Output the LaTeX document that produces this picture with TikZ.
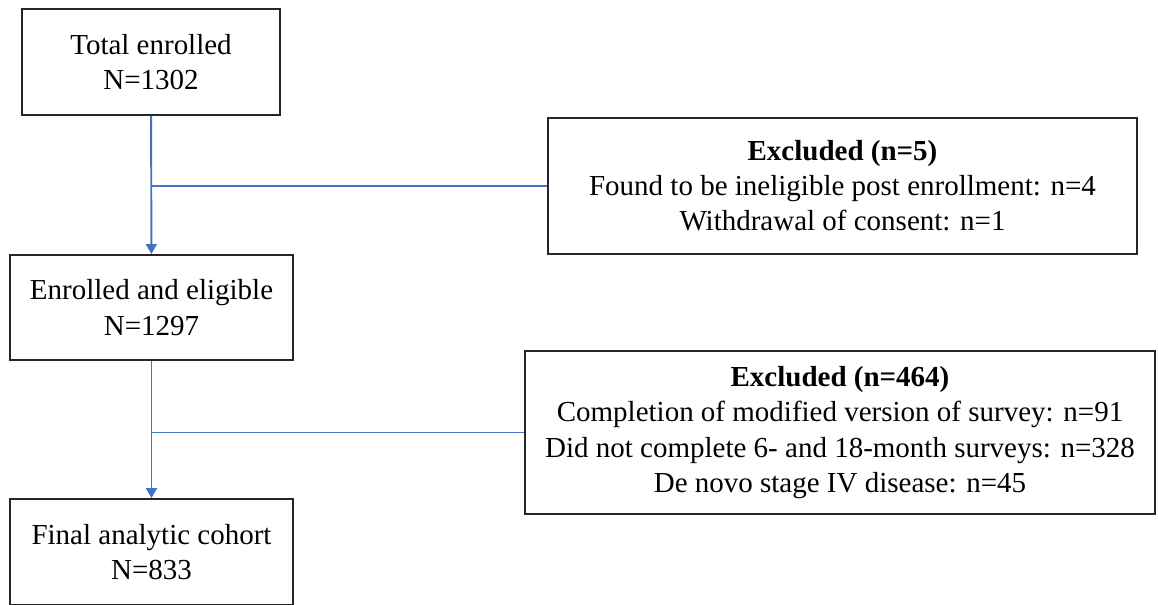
\documentclass[tikz,border=0pt]{standalone}
\usepackage{fontspec}
\setmainfont{Liberation Serif}
\usepackage{xcolor}
\usetikzlibrary{arrows.meta}

\definecolor{flowblue}{RGB}{68,114,196}

\begin{document}
\begin{tikzpicture}[
    stage/.style={draw=black!85, line width=1.1pt, align=center,
                  inner sep=0pt, font=\fontsize{16.5}{20}\selectfont},
    flow/.style={draw=flowblue, line width=0.8pt},
    arr/.style={flow, line width=1.1pt, -{Triangle[length=0.2cm,width=0.22cm]}}
  ]
  \useasboundingbox (0,0) rectangle (23.16,-12.08);
  % Main column
  \node[stage, minimum width=5.16cm, minimum height=2.12cm] (total)
    at (3.02,-1.24) {Total enrolled\\N=1302};
  \node[stage, minimum width=5.66cm, minimum height=2.10cm] (eligible)
    at (3.03,-6.15) {Enrolled and eligible\\N=1297};
  \node[stage, minimum width=5.66cm, minimum height=2.12cm] (cohort)
    at (3.03,-11.04) {Final analytic cohort\\N=833};
  % Exclusion boxes
  \node[stage, minimum width=11.78cm, minimum height=2.72cm] (excl1)
    at (16.85,-3.72) {\textbf{Excluded (n=5)}\\
      Found to be ineligible post enrollment: n=4\\
      Withdrawal of consent: n=1};
  \node[stage, minimum width=12.6cm, minimum height=3.26cm] (excl2)
    at (16.8,-8.65) {\textbf{Excluded (n=464)}\\
      Completion of modified version of survey: n=91\\
      Did not complete 6- and 18-month surveys: n=328\\
      De novo stage IV disease: n=45};
  % Arrows down the column
  \draw[arr] (total) -- (eligible);
  \draw[arr] (eligible) -- (cohort);
  % Branches to the exclusions
  \draw[flow] (total |- excl1.west) -- (excl1.west);
  \draw[flow] (eligible |- excl2.west) -- (excl2.west);
\end{tikzpicture}
\end{document}
